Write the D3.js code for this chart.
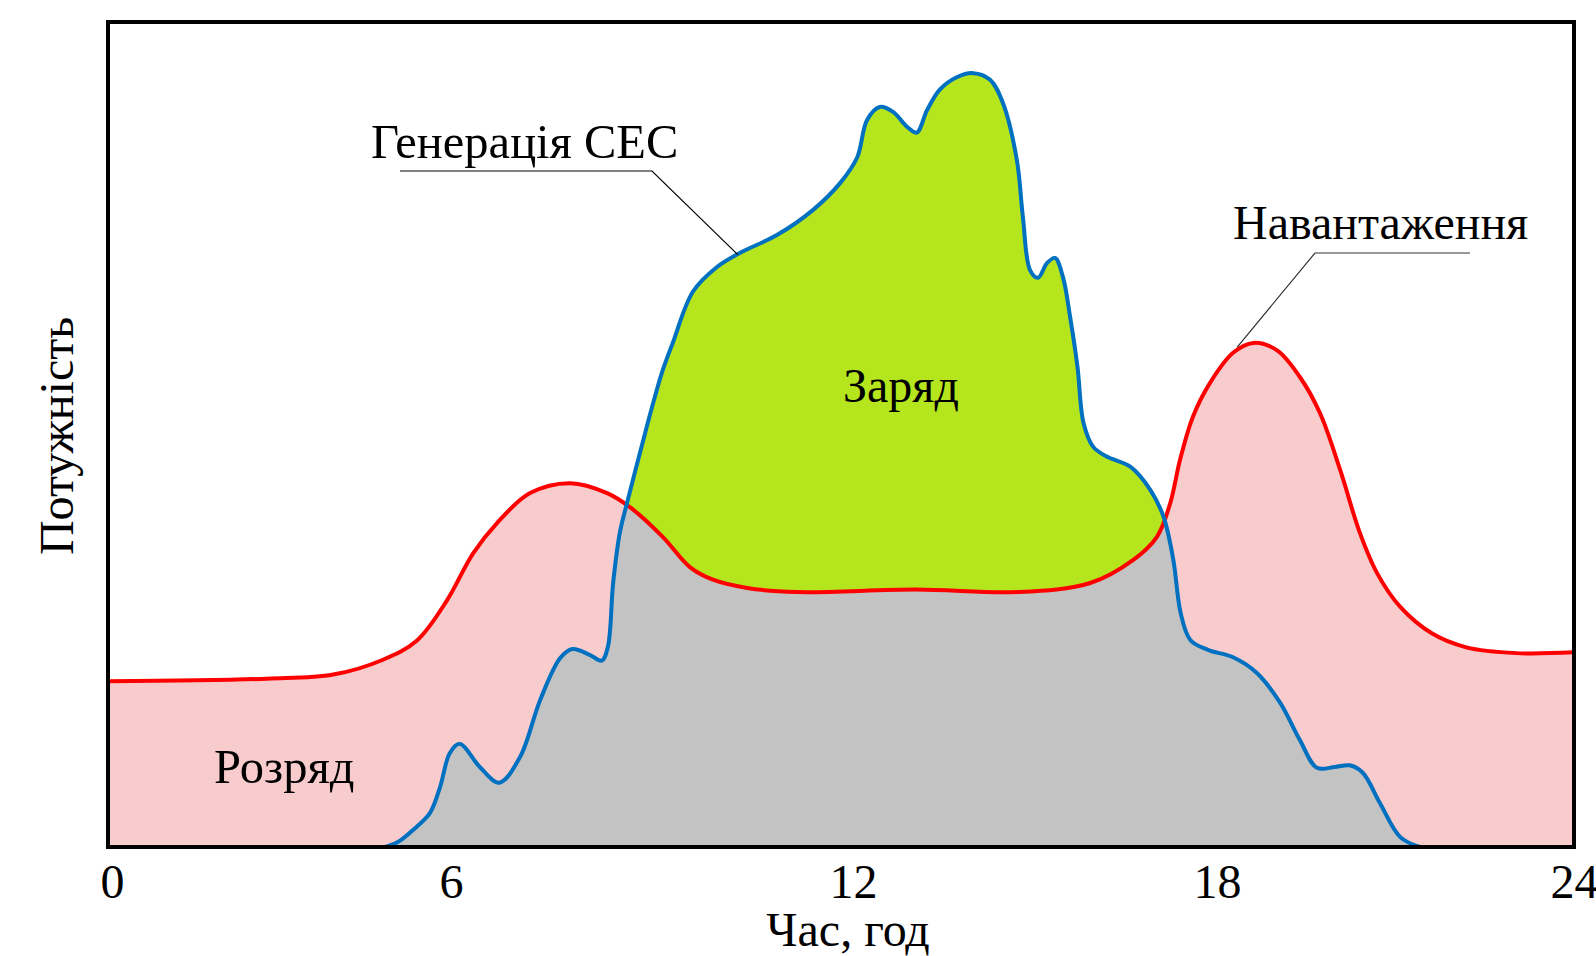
<!DOCTYPE html>
<html>
<head>
<meta charset="utf-8">
<script src="https://cdn.jsdelivr.net/npm/d3@7"></script>
<style>
  body { margin: 0; background: #fff; }
  text { font-family: "Liberation Serif", "Times New Roman", serif; fill: #000; }
</style>
</head>
<body>
<svg id="chart" width="1596" height="956"></svg>
<script>
// hours of the day shown on the x axis
var hourTicks = [0, 6, 12, 18, 24];

// load profile (Навантаження): hour / relative power
var loadHours = [0, 2.78, 3.94, 4.81, 5.40, 5.93, 6.33, 6.69, 7.18, 7.78, 8.33, 8.67, 9.16, 9.57, 9.91,
  10.42, 11.16, 13.04, 14.72, 15.91, 16.62, 17.01, 17.23, 17.39, 17.60, 17.88, 18.27, 18.61, 19.01,
  19.39, 19.73, 20.07, 20.40, 20.69, 21.08, 21.61, 22.19, 23.03, 24];
var loadValues = [20.1, 20.4, 20.9, 22.7, 25.0, 29.9, 35.6, 39.3, 42.9, 44.1, 42.9, 41.2, 37.6, 33.9, 32.4,
  31.4, 30.9, 31.2, 30.9, 32.0, 34.8, 37.6, 41.7, 46.9, 52.1, 56.2, 59.9, 61.1, 60.2,
  57.0, 52.6, 45.7, 38.1, 33.2, 29.1, 25.9, 24.2, 23.5, 23.6];

// PV generation (Генерація СЕС)
var pvHours = [4.85, 5.07, 5.34, 5.63, 5.81, 5.98, 6.13, 6.43, 6.72, 7.03, 7.33, 7.63, 7.81, 8.07, 8.25,
  8.34, 8.42, 8.52, 8.64, 8.85, 9.01, 9.16, 9.31, 9.61, 9.97, 10.31, 10.87, 11.40, 11.81, 12.07, 12.23,
  12.44, 12.66, 12.89, 13.05, 13.22, 13.43, 13.71, 13.98, 14.26, 14.47, 14.70, 14.80, 14.92, 15.05,
  15.20, 15.33, 15.46, 15.58, 15.70, 15.80, 15.96, 16.19, 16.57, 16.90, 17.12, 17.28, 17.40, 17.56,
  17.85, 18.27, 18.67, 19.06, 19.39, 19.68, 19.98, 20.23, 20.45, 20.74, 21.08, 21.41];
var pvValues = [0, 0.6, 2.1, 4.1, 7.3, 11.4, 12.5, 9.7, 7.8, 10.9, 17.8, 22.9, 24.0, 23.3, 22.6,
  24.2, 32.0, 38.1, 42.1, 48.7, 53.6, 57.8, 61.1, 67.3, 70.3, 72.0, 74.2, 77.2, 80.5, 83.6, 88.1,
  89.7, 89.1, 87.3, 86.6, 89.3, 91.8, 93.3, 93.8, 93.0, 90.2, 83.3, 76.4, 69.9, 69.0,
  70.8, 71.4, 69.1, 64.2, 58.2, 51.4, 48.5, 47.3, 46.1, 43.3, 40.0, 34.8, 28.4, 25.1,
  23.9, 23.0, 21.1, 17.5, 13.0, 9.6, 9.7, 9.9, 9.0, 5.3, 1.2, 0];

var load = loadHours.map(function(h, i) { return { h: h, v: loadValues[i] }; });
var pv = pvHours.map(function(h, i) { return { h: h, v: pvValues[i] }; });

var svg = d3.select("#chart");
var plotL = 108, plotR = 1574, plotT = 22, plotB = 847;

// the hour marks in the figure are not evenly spaced, so the scale is piecewise
var x = d3.scaleLinear().domain(hourTicks).range([plotL, 451, 853, 1217, plotR]);
var y = d3.scaleLinear().domain([0, 100]).range([plotB, plotT]);

var smooth = d3.curveCatmullRom.alpha(0.5);

var defs = svg.append("defs");
defs.append("clipPath").attr("id", "plot")
  .append("rect").attr("x", plotL).attr("y", plotT).attr("width", plotR - plotL).attr("height", plotB - plotT);

var area = d3.area().x(function(d) { return x(d.h); }).y0(y(0)).y1(function(d) { return y(d.v); })
  .curve(smooth);
var line = d3.line().x(function(d) { return x(d.h); }).y(function(d) { return y(d.v); })
  .curve(smooth);

defs.append("clipPath").attr("id", "underLoad")
  .append("path").attr("d", area(load));

var g = svg.append("g").attr("clip-path", "url(#plot)");

// discharge (pink) under the load curve
g.append("path").attr("d", area(load)).attr("fill", "#f8cbcc");
// charge (green) under generation
g.append("path").attr("d", area(pv)).attr("fill", "#b5e61d");
// overlap (gray)
g.append("path").attr("d", area(pv)).attr("fill", "#c3c3c3").attr("clip-path", "url(#underLoad)");

g.append("path").attr("d", line(load)).attr("fill", "none").attr("stroke", "#ff0000").attr("stroke-width", 4);
svg.append("path").attr("d", line(pv)).attr("fill", "none").attr("stroke", "#0070c0").attr("stroke-width", 4);

// frame
svg.append("rect").attr("x", plotL).attr("y", plotT).attr("width", plotR - plotL).attr("height", plotB - plotT)
  .attr("fill", "none").attr("stroke", "#000").attr("stroke-width", 4);

// x axis labels
var xAxis = svg.append("g").attr("transform", "translate(0," + plotB + ")")
  .call(d3.axisBottom(x).tickValues(hourTicks).tickSize(0).tickPadding(17).tickFormat(d3.format("d")));
xAxis.select(".domain").remove();
xAxis.selectAll("text").attr("font-size", 48).style("font-family", "'Liberation Serif', serif").attr("fill", "#000");
xAxis.selectAll(".tick").filter(function(d) { return d === 0; }).select("text").attr("dx", 4);

svg.append("text").attr("x", 848).attr("y", 946).attr("text-anchor", "middle").attr("font-size", 48).text("Час, год");
svg.append("text").attr("transform", "translate(73,436) rotate(-90)").attr("text-anchor", "middle")
  .attr("font-size", 48).text("Потужність");

// labels inside the plot
svg.append("text").attr("x", 371).attr("y", 158).attr("font-size", 48.5).text("Генерація СЕС");
svg.append("text").attr("x", 1233).attr("y", 239).attr("font-size", 48).text("Навантаження");
svg.append("text").attr("x", 843).attr("y", 402).attr("font-size", 48).text("Заряд");
svg.append("text").attr("x", 214).attr("y", 783).attr("font-size", 48.5).text("Розряд");

// leader lines from labels to the curves
var pvMark = { h: 10.28, v: 71.8 }, loadMark = { h: 18.34, v: 60.6 };
svg.append("path").attr("fill", "none").attr("stroke", "#000").attr("stroke-width", 1.2)
  .attr("d", d3.line()([[400, 171], [652, 171], [x(pvMark.h), y(pvMark.v)]]));
svg.append("path").attr("fill", "none").attr("stroke", "#333").attr("stroke-width", 1.2)
  .attr("d", d3.line()([[1470, 253], [1315, 253], [x(loadMark.h), y(loadMark.v)]]));
</script>
</body>
</html>
